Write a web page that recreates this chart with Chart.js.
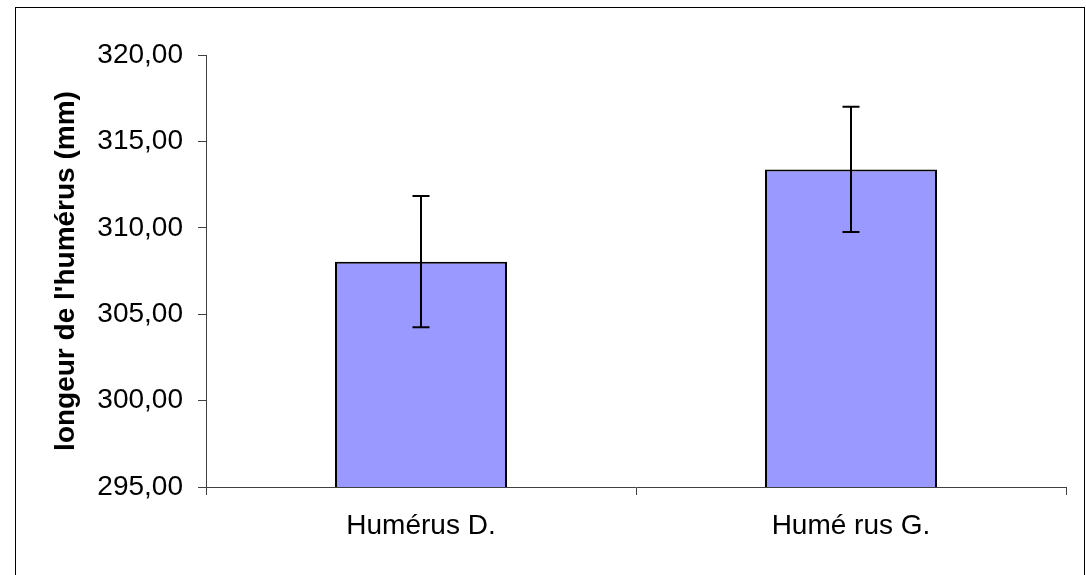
<!DOCTYPE html>
<html>
<head>
<meta charset="utf-8">
<script src="https://cdn.jsdelivr.net/npm/chart.js@4/dist/chart.umd.min.js"></script>
<style>
html,body{margin:0;padding:0;background:#fff;}
#wrap{width:1086px;height:575px;position:relative;}
</style>
</head>
<body>
<div id="wrap"><canvas id="c" width="1086" height="575"></canvas></div>
<script>
const categories = ["Humérus D.", "Humé rus G."];
const means = [308.04, 313.38];
const errors = [3.80, 3.62];
const yMin = 295, yMax = 320, yStep = 5;
const yTitle = "longeur de l'humérus (mm)";

const errorBarPlugin = {
  id: 'errorBars',
  afterDatasetsDraw(chart) {
    const ctx = chart.ctx;
    const meta = chart.getDatasetMeta(0);
    const y = chart.scales.y;
    ctx.save();
    ctx.strokeStyle = '#000';
    ctx.lineWidth = 2;
    meta.data.forEach((bar, i) => {
      const x = Math.round(bar.x);
      const yt = y.getPixelForValue(means[i] + errors[i]);
      const yb = y.getPixelForValue(means[i] - errors[i]);
      ctx.beginPath();
      ctx.moveTo(x, yt); ctx.lineTo(x, yb);
      ctx.moveTo(x - 8.5, yt); ctx.lineTo(x + 8.5, yt);
      ctx.moveTo(x - 8.5, yb); ctx.lineTo(x + 8.5, yb);
      ctx.stroke();
    });
    ctx.restore();
  }
};

const borderPlugin = {
  id: 'outerBorder',
  afterDraw(chart) {
    const ctx = chart.ctx;
    ctx.save();
    ctx.strokeStyle = '#000';
    ctx.lineWidth = 1;
    ctx.strokeRect(15.5, 7.5, 1069, 600);
    ctx.restore();
  }
};

new Chart(document.getElementById('c'), {
  type: 'bar',
  data: {
    labels: categories,
    datasets: [{
      data: means,
      backgroundColor: '#9999FF',
      borderColor: '#000000',
      borderWidth: 2,
      borderSkipped: false,
      barPercentage: 0.4,
      categoryPercentage: 1.0
    }]
  },
  options: {
    responsive: false,
    animation: false,
    devicePixelRatio: 1,
    layout: { padding: { left: 20, right: 20, top: 55, bottom: 8 } },
    plugins: { legend: { display: false }, tooltip: { enabled: false } },
    scales: {
      x: {
        offset: true,
        grid: { display: true, drawOnChartArea: false, drawTicks: true, tickLength: 8, color: '#404040', offset: true },
        border: { display: true, color: '#404040', width: 1 },
        ticks: { color: '#000', font: { family: 'Liberation Sans, Arial', size: 28 }, padding: 14, maxRotation: 0 },
        afterFit(s) { s.height = 80; }
      },
      y: {
        min: yMin, max: yMax,
        grid: { display: true, drawOnChartArea: false, drawTicks: true, tickLength: 8, color: '#404040' },
        border: { display: true, color: '#404040', width: 1 },
        ticks: {
          stepSize: yStep,
          color: '#000',
          padding: 15,
          font: { family: 'Liberation Sans, Arial', size: 28 },
          callback: v => Number(v).toFixed(2).replace('.', ',')
        },
        title: {
          display: true, text: yTitle, color: '#000',
          font: { family: 'Liberation Sans, Arial', size: 28, weight: 'bold' },
          padding: { top: 29, bottom: 0 }
        },
        afterFit(s) { s.width = 186; }
      }
    }
  },
  plugins: [errorBarPlugin, borderPlugin]
});
</script>
</body>
</html>
